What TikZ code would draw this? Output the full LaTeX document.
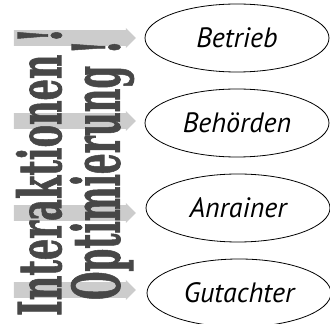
\documentclass[tikz,border=0pt]{standalone}
\usepackage{fontspec}
\usepackage{graphicx}
\usepackage{tikz}
\usetikzlibrary{shapes.geometric, shapes.arrows}
\newfontfamily\partyfont{PT Sans}
\newfontfamily\slabfont[BoldFeatures={FakeBold=1.5}]{DejaVu Serif}
\tikzset{
  party/.style={draw, thick, ellipse, minimum width=184pt, minimum height=68pt,
    inner sep=0pt, font=\partyfont\itshape\fontsize{28}{30}\selectfont},
  band/.style={single arrow, fill=gray!40, draw=none, minimum height=122pt,
    minimum width=20pt, single arrow head extend=2pt, inner xsep=0pt, inner ysep=7.5pt},
  slogan/.style={rotate=90, inner sep=0pt, text=black!72, font=\slabfont\bfseries}
}

\begin{document}
\begin{tikzpicture}[x=1pt, y=1pt]
    \useasboundingbox (0,0) rectangle (330,324);
    % grey arrows behind the vertical slogans
    \node[band] (b1) at (71,286) {};
    \node[band] (b2) at (71,203) {};
    \node[band] (b3) at (71,111) {};
    \node[band] (b4) at (71,34) {};
    % vertical slogans
    \node[slogan] (inter) at (39,152) {\resizebox*{288pt}{46pt}{Interaktionen !}};
    \node[slogan] (opti) at (102,154) {\resizebox*{260pt}{64pt}{Optimierung !}};
    % parties
    \node[party] (betrieb) at (237,286) {Betrieb};
    \node[party] (behoerden) at (237,201) {Behörden};
    \node[party] (anrainer) at (238,116) {Anrainer};
    \node[party] (gutachter) at (239,31) {Gutachter};
\end{tikzpicture}
\end{document}
